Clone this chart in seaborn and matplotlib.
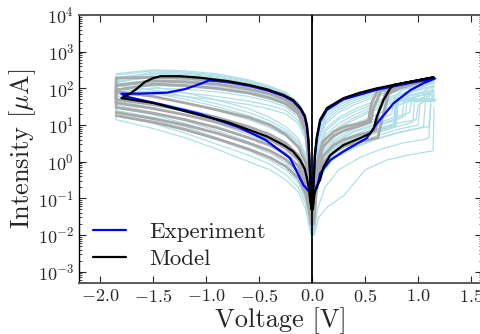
import numpy as np
import pandas as pd
import matplotlib
matplotlib.use('Agg')
import matplotlib.pyplot as plt
from matplotlib.ticker import LogLocator, NullFormatter
import seaborn as sns

# voltage grids for the measured sweeps
V_NEG = [-1.85, -1.5, -1.2, -0.9, -0.6, -0.4, -0.25, -0.13, -0.06, -0.025, -0.008]
V_POS = [0.008, 0.025, 0.06, 0.13, 0.25, 0.4, 0.55, 0.7, 0.85, 1.0, 1.15]

# negative side, forward branch (light blue sweeps) [uA]
cyan_neg_lo = [
    [80, 60, 40, 25, 14, 8.5, 5, 2.4, 0.9, 0.2, 0.03],
    [60, 42, 28, 17, 9, 5.5, 3.2, 1.5, 0.5, 0.1, 0.02],
    [45, 30, 19, 11, 5.5, 3.2, 1.8, 0.8, 0.28, 0.06, 0.015],
    [35, 22, 13, 7, 3.5, 2, 1.1, 0.5, 0.17, 0.04, 0.01],
    [25, 16, 9, 4.5, 2.2, 1.3, 0.7, 0.32, 0.1, 0.025, 0.01],
    [18, 11, 6, 3, 1.5, 0.85, 0.45, 0.2, 0.07, 0.02, 0.01],
    [14, 8, 4.5, 2.2, 1.0, 0.6, 0.32, 0.15, 0.05, 0.015, 0.01],
    [100, 75, 50, 32, 18, 11, 6.5, 3.2, 1.2, 0.3, 0.05],
    [120, 90, 60, 38, 22, 13, 7.5, 3.6, 1.3, 0.3, 0.05],
    [50, 36, 24, 14, 7.5, 4.5, 2.5, 1.1, 0.4, 0.08, 0.02],
    [30, 19, 11, 6, 3, 1.7, 0.95, 0.42, 0.14, 0.035, 0.012],
    [22, 14, 8, 4, 2, 1.1, 0.6, 0.27, 0.09, 0.025, 0.01],
    [140, 110, 75, 48, 28, 16, 9, 4.3, 1.5, 0.35, 0.05],
]
# negative side, return branch (light blue sweeps) [uA]
cyan_neg_up = [
    [230, 300, 280, 230, 160, 110, 75, 38, 14, 1.3, 0.05],
    [180, 250, 240, 200, 140, 100, 68, 35, 12, 1.1, 0.03],
    [150, 210, 200, 170, 120, 85, 58, 30, 10, 0.8, 0.02],
    [130, 170, 165, 140, 100, 72, 50, 26, 8, 0.6, 0.03],
    [110, 150, 140, 115, 85, 60, 42, 22, 7, 0.5, 0.02],
    [160, 190, 175, 150, 110, 80, 55, 28, 9, 0.7, 0.04],
    [200, 260, 230, 185, 130, 95, 65, 32, 11, 1.0, 0.06],
    [95, 120, 110, 95, 70, 50, 36, 19, 6, 0.4, 0.015],
    [140, 230, 220, 190, 135, 92, 62, 31, 10, 0.9, 0.03],
    [80, 100, 95, 80, 60, 44, 31, 16, 5, 0.35, 0.012],
    [70, 85, 75, 60, 45, 34, 25, 13, 4.5, 0.3, 0.012],
    [60, 70, 60, 48, 36, 27, 20, 11, 3.8, 0.25, 0.01],
    [120, 140, 120, 100, 75, 55, 40, 21, 7, 0.5, 0.02],
    [250, 320, 300, 250, 170, 115, 78, 40, 15, 1.4, 0.06],
    [170, 280, 260, 215, 150, 105, 70, 36, 13, 1.2, 0.05],
]
# negative side, grey sweeps [uA]
grey_neg_lo = [
    [50, 36, 25, 16, 9, 5.5, 3.2, 1.5, 0.55, 0.13, 0.03],
    [40, 28, 19, 12, 6.5, 4, 2.3, 1.1, 0.4, 0.09, 0.02],
    [30, 21, 14, 8.5, 4.5, 2.8, 1.6, 0.75, 0.27, 0.06, 0.02],
    [22, 15, 10, 6, 3.2, 2, 1.15, 0.55, 0.2, 0.05, 0.02],
    [80, 60, 40, 26, 16, 10, 5.5, 2.5, 0.9, 0.2, 0.03],
    [18, 12, 7.5, 4.2, 2.2, 1.3, 0.75, 0.35, 0.13, 0.04, 0.02],
]
grey_neg_up = [
    [190, 200, 190, 160, 115, 85, 58, 30, 10, 0.8, 0.04],
    [120, 160, 150, 130, 95, 70, 48, 25, 8, 0.6, 0.03],
    [90, 130, 120, 100, 75, 55, 38, 20, 6.5, 0.5, 0.03],
]

# positive side, return branch (light blue) [uA]
cyan_pos_up = [
    [0.1, 1.5, 7, 22, 40, 60, 82, 100, 125, 150, 180],
    [0.06, 1.0, 5, 16, 30, 48, 66, 85, 105, 130, 160],
    [0.04, 0.7, 3.5, 11, 22, 36, 52, 70, 90, 115, 140],
    [0.03, 0.5, 2.5, 8, 16, 27, 40, 56, 75, 95, 120],
    [0.02, 0.35, 1.7, 5.5, 11, 19, 30, 45, 60, 75, 90],
    [0.02, 0.25, 1.2, 4, 8, 14, 23, 35, 50, 62, 70],
    [0.08, 1.2, 6, 19, 35, 54, 74, 92, 115, 140, 170],
    [0.05, 0.8, 4, 13, 26, 42, 59, 78, 98, 122, 150],
    [0.03, 0.45, 2.2, 7, 14, 23, 35, 50, 68, 88, 110],
    [0.02, 0.3, 1.4, 4.5, 9, 16, 26, 40, 55, 70, 80],
    [0.015, 0.2, 0.9, 3, 6, 10, 16, 25, 38, 52, 65],
]
# positive side, forward branch with switching (light blue): (voltages, currents)
cyan_pos_lo = [
    ([0.01, 0.03, 0.08, 0.2, 0.4, 0.6, 0.75, 0.78, 0.85, 1.0, 1.15],
     [0.02, 0.3, 1.5, 4, 8, 13, 20, 60, 90, 130, 170]),
    ([0.01, 0.03, 0.08, 0.2, 0.4, 0.6, 0.8, 0.88, 0.9, 1.0, 1.15],
     [0.015, 0.2, 1.0, 2.8, 5.5, 9, 14, 18, 70, 110, 150]),
    ([0.01, 0.03, 0.08, 0.2, 0.4, 0.6, 0.8, 0.95, 0.97, 1.15],
     [0.012, 0.12, 0.6, 1.8, 3.6, 6, 9, 12, 60, 120]),
    ([0.01, 0.03, 0.08, 0.2, 0.4, 0.6, 0.8, 1.0, 1.05, 1.07, 1.15],
     [0.01, 0.08, 0.4, 1.2, 2.4, 4, 6, 8, 9, 50, 90]),
    ([0.02, 0.06, 0.15, 0.3, 0.5, 0.7, 0.9, 1.1, 1.14, 1.15],
     [0.01, 0.03, 0.06, 0.12, 0.6, 1.1, 1.5, 1.9, 2, 30]),
    ([0.01, 0.03, 0.08, 0.2, 0.4, 0.55, 0.65, 0.68, 0.75, 0.9, 1.15],
     [0.03, 0.4, 2, 5.5, 11, 16, 22, 80, 110, 140, 185]),
    ([0.01, 0.03, 0.08, 0.2, 0.4, 0.6, 0.8, 0.92, 0.94, 1.15],
     [0.02, 0.25, 1.2, 3.5, 7, 11, 17, 22, 55, 80]),
    ([0.01, 0.03, 0.08, 0.2, 0.4, 0.6, 0.8, 1.0, 1.02, 1.15],
     [0.012, 0.1, 0.5, 1.5, 3, 5, 7.5, 10, 45, 110]),
    ([0.01, 0.03, 0.08, 0.2, 0.4, 0.6, 0.8, 0.85, 0.87, 1.0, 1.15],
     [0.02, 0.2, 1.1, 3.2, 6.5, 10, 15, 17, 65, 100, 140]),
    ([0.01, 0.03, 0.08, 0.2, 0.4, 0.6, 0.8, 1.0, 1.1, 1.12, 1.15],
     [0.012, 0.1, 0.5, 1.3, 2.6, 4.2, 6.2, 8.2, 9, 45, 70]),
    ([0.01, 0.03, 0.08, 0.2, 0.4, 0.6, 0.7, 0.72, 0.8, 1.0, 1.15],
     [0.025, 0.35, 1.8, 5, 10, 15, 19, 75, 100, 150, 190]),
    ([0.015, 0.05, 0.12, 0.25, 0.45, 0.65, 0.85, 1.05, 1.1, 1.12],
     [0.01, 0.05, 0.2, 0.6, 1.3, 2.2, 3.2, 4, 4.5, 35]),
    ([0.01, 0.03, 0.08, 0.2, 0.4, 0.6, 0.8, 0.98, 1.0, 1.15],
     [0.015, 0.15, 0.8, 2.2, 4.5, 7, 11, 14, 35, 60]),
]
cyan_flat_v = [0.01, 0.03, 0.08, 0.2, 0.4, 0.6, 0.78, 0.8, 1.15]
cyan_flat_i = [0.015, 0.15, 0.8, 2.2, 4.5, 7, 10, 48, 48]

# positive side, grey sweeps
grey_pos_lo = [
    ([0.015, 0.04, 0.1, 0.2, 0.3, 0.45, 0.55, 0.58, 0.65, 0.75, 0.9, 1.1],
     [0.05, 0.6, 2.5, 5, 7, 9.5, 12, 30, 85, 110, 140, 175]),
    ([0.015, 0.04, 0.1, 0.2, 0.3, 0.45, 0.6, 0.63, 0.7, 0.8, 0.95, 1.1],
     [0.03, 0.35, 1.4, 2.8, 4, 5.5, 7, 25, 80, 105, 135, 170]),
    ([0.015, 0.04, 0.1, 0.2, 0.3, 0.45, 0.62, 0.66, 0.72, 0.82, 1.0, 1.1],
     [0.02, 0.2, 0.9, 1.8, 2.6, 3.5, 4.5, 15, 70, 100, 140, 160]),
    ([0.015, 0.04, 0.1, 0.2, 0.3, 0.45, 0.53, 0.56, 0.62, 0.72, 0.9, 1.1],
     [0.06, 0.8, 3.5, 6.5, 9, 11, 13, 40, 90, 115, 145, 180]),
]

# highlighted experiment (blue)
exp_v = [0.044, 0.075, 0.17, 0.295, 0.515, 0.61, 0.767, 0.925, 1.05, 1.16,
         0.925, 0.61, 0.295, 0.139, 0.075, 0.044, 0.025, 0.012,
         -0.019, -0.082, -0.21, -0.44, -0.7, -1.057, -1.4, -1.75, -1.8,
         -1.62, -1.37, -1.2, -1.057, -0.97, -0.8, -0.59, -0.42, -0.27, -0.18,
         -0.11, -0.07, -0.05, -0.035, -0.02, -0.008]
exp_i = [0.19, 0.48, 1.1, 1.9, 4.4, 11, 39, 89, 138, 186,
         140, 92, 50, 26, 12.5, 4.2, 1.3, 0.2,
         0.14, 0.23, 1.26, 3.9, 8.9, 20, 35, 59, 71,
         72, 76, 95, 132, 165, 150, 117, 88, 62, 45,
         27, 16.5, 9, 3.2, 0.4, 0.06]

# model (black)
model_v = [0.005, 0.01, 0.02, 0.044, 0.075, 0.107, 0.17, 0.295, 0.453, 0.547,
           0.58, 0.61, 0.673, 0.736, 0.767, 0.925, 1.144,
           0.925, 0.61, 0.45, 0.295, 0.139, 0.075, 0.044, 0.025, 0.012, 0.005,
           -0.005, -0.019, -0.03, -0.05, -0.07, -0.113, -0.18, -0.27, -0.42,
           -0.585, -0.8, -1.06, -1.5, -1.8,
           -1.72, -1.65, -1.58, -1.5, -1.43, -1.25, -1.06, -0.8, -0.59, -0.42,
           -0.27, -0.18, -0.11, -0.07, -0.05, -0.035, -0.02, -0.01, -0.005]
model_i = [0.05, 0.063, 0.126, 0.22, 0.32, 0.72, 1.5, 2.85, 4.4, 5.9,
           7.9, 17, 48, 100, 123, 151, 200,
           151, 100, 76, 54, 29, 14, 4.8, 1.6, 0.25, 0.05,
           0.05, 0.085, 0.18, 0.36, 0.63, 1.1, 1.9, 2.85, 4.8,
           7.2, 12, 18.6, 40, 54,
           71, 100, 148, 190, 214, 214, 195, 158, 123, 93,
           66, 48, 29, 18, 10, 4, 0.5, 0.13, 0.05]


def to_frame(curves):
    rows = []
    for k, (v, i) in enumerate(curves):
        rows.append(pd.DataFrame({'V': v, 'I': i, 'curve': k}))
    return pd.concat(rows, ignore_index=True)


# build loops: forward branch out to -1.85 V, then back along the return branch
cyan_curves = []
for k, up in enumerate(cyan_neg_up):
    if k < len(cyan_neg_lo):
        lo = cyan_neg_lo[k]
        cyan_curves.append((V_NEG[::-1] + V_NEG, lo[::-1] + up))
    else:
        cyan_curves.append((V_NEG, up))
for up in cyan_pos_up:
    cyan_curves.append((V_POS, up))
cyan_curves += cyan_pos_lo

grey_curves = []
for k, lo in enumerate(grey_neg_lo):
    if k < len(grey_neg_up):
        grey_curves.append((V_NEG[::-1] + V_NEG, lo[::-1] + grey_neg_up[k]))
    else:
        grey_curves.append((V_NEG, lo))
grey_curves += grey_pos_lo

cyan_df = to_frame(cyan_curves)
grey_df = to_frame(grey_curves)
flat_df = pd.DataFrame({'V': cyan_flat_v, 'I': cyan_flat_i})
exp_df = pd.DataFrame({'V': exp_v, 'I': exp_i})
model_df = pd.DataFrame({'V': model_v, 'I': model_i})

sns.set_style('ticks')
plt.rcParams.update({
    'font.family': 'serif',
    'font.serif': ['cmr10', 'DejaVu Serif'],
    'mathtext.fontset': 'cm',
    'axes.formatter.use_mathtext': True,
    'axes.unicode_minus': True,
})

fig = plt.figure(figsize=(4.8, 3.34), dpi=100)
ax = fig.add_axes([79 / 480, 0.1536, 402.8 / 480, 0.8015])

sns.lineplot(data=cyan_df, x='V', y='I', units='curve', estimator=None, sort=False,
             color='powderblue', lw=0.9, ax=ax)
sns.lineplot(data=flat_df, x='V', y='I', estimator=None, sort=False,
             color='powderblue', lw=3, ax=ax)
sns.lineplot(data=grey_df, x='V', y='I', units='curve', estimator=None, sort=False,
             color='darkgray', lw=2.0, ax=ax)
ax.axvline(0, color='k', lw=1.3, zorder=5)
sns.lineplot(data=exp_df, x='V', y='I', estimator=None, sort=False,
             color='blue', lw=1.6, ax=ax, label='Experiment', zorder=6)
sns.lineplot(data=model_df, x='V', y='I', estimator=None, sort=False,
             color='black', lw=1.6, ax=ax, label='Model', zorder=7)

ax.set_yscale('log')
ax.set_xlim(-2.2, 1.6)
ax.set_ylim(5e-4, 1e4)
ax.yaxis.set_major_locator(LogLocator(base=10, numticks=20))
ax.yaxis.set_minor_locator(LogLocator(base=10, subs=np.arange(2, 10), numticks=20))
ax.yaxis.set_minor_formatter(NullFormatter())
ax.set_xticks([-2.0, -1.5, -1.0, -0.5, 0.0, 0.5, 1.0, 1.5])
ax.set_xticklabels(['$-2.0$', '$-1.5$', '$-1.0$', '$-0.5$', '$0.0$', '$0.5$', '$1.0$', '$1.5$'])
ax.set_xlabel('Voltage [V]', fontsize=19, labelpad=2)
ax.set_ylabel(r'Intensity [$\mu$A]', fontsize=19, labelpad=0)
ax.tick_params(which='both', direction='in', top=True, right=True, labelsize=13)
ax.tick_params(which='major', length=5, width=0.8)
ax.tick_params(which='minor', length=2.5, width=0.6)
ax.tick_params(axis='x', which='minor', bottom=False, top=False)
for s in ax.spines.values():
    s.set_color('0.35')
    s.set_linewidth(1.4)
ax.spines['left'].set_color('k')
ax.spines['left'].set_linewidth(1.0)

ax.legend(loc='lower left', frameon=False, fontsize=16.5, handlelength=1.45,
          borderaxespad=0.2, labelspacing=0.3, handletextpad=1.0)

fig.savefig('out.png', dpi=100)
